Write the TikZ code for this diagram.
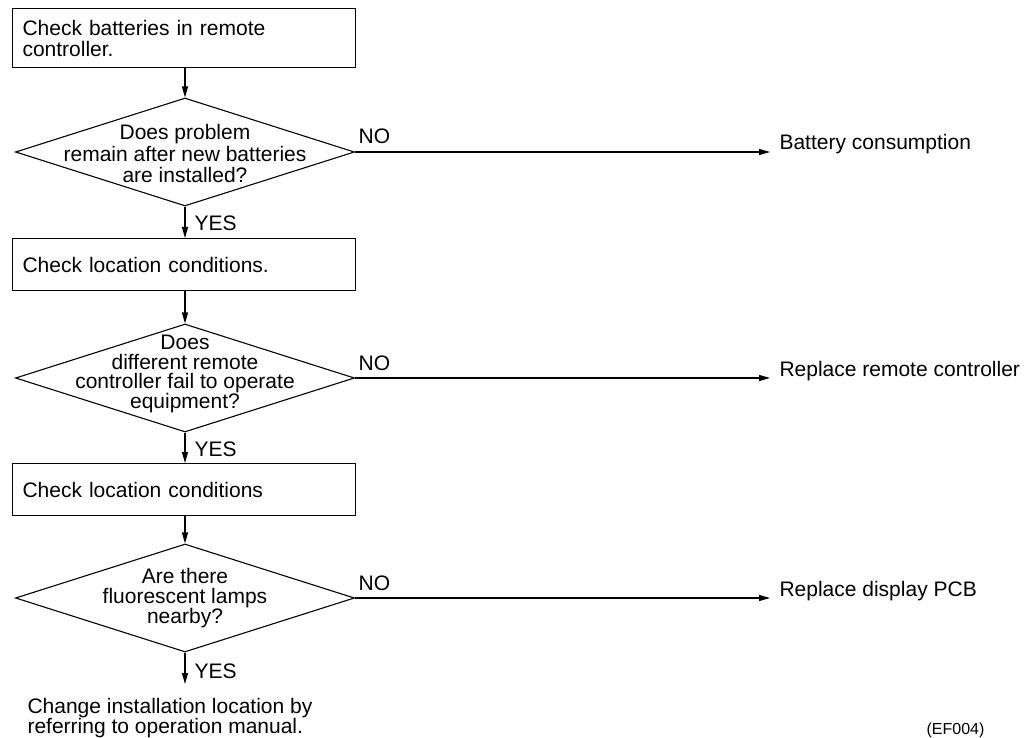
\documentclass[tikz,border=0pt]{standalone}
\usepackage{fontspec}
\setmainfont{Liberation Sans}
\usetikzlibrary{shapes.geometric,arrows.meta,calc}
\begin{document}
\begin{tikzpicture}[x=1pt,y=-1pt,
  every node/.style={font=\fontsize{21}{21}\selectfont},
  line width=1.1pt,
  boxstyle/.style={draw,rectangle,anchor=north west,minimum width=343pt,minimum height=#1,inner xsep=10pt,inner ysep=0pt,text width=323pt,align=left},
  dia/.style={draw,diamond,inner sep=0pt,minimum width=339pt,minimum height=108pt},
  dtext/.style={align=center,inner sep=0pt,anchor=north},
  arr/.style={-{Triangle[length=11pt,width=6pt]}},
  lbl/.style={inner sep=0pt},
]
\useasboundingbox (0,0) rectangle (1034,738);

\node[boxstyle=59pt] (b1) at (12,8) {Check batteries in remote\\controller.};
\node[dia] (d1) at (185,152) {};
\node[dtext,font=\fontsize{21}{21.5}\selectfont] (t1) at ($(d1.center)+(0,-28)$) {Does problem\\remain after new batteries\\are installed?};
\node[boxstyle=52pt] (b2) at (12,238) {Check location conditions.};
\node[dia] (d2) at (185,378) {};
\node[dtext,font=\fontsize{21}{19.2}\selectfont] (t2) at ($(d2.center)+(0,-43)$) {Does\\different remote\\controller fail to operate\\equipment?};
\node[boxstyle=52pt] (b3) at (12,463) {Check location conditions};
\node[dia] (d3) at (185,598) {};
\node[dtext,font=\fontsize{21}{20}\selectfont] (t3) at ($(d3.center)+(0,-30)$) {Are there\\fluorescent lamps\\nearby?};
\node[lbl,anchor=north west,align=left,font=\fontsize{21}{20}\selectfont] (fin) at (27,698) {Change installation location by\\referring to operation manual.};

\node[lbl,anchor=base west] (r1) at (779,150) {Battery consumption};
\node[lbl,anchor=base west] (r2) at (779,376) {Replace remote controller};
\node[lbl,anchor=base west] (r3) at (779,596) {Replace display PCB};

\node[lbl,anchor=base east,font=\fontsize{16}{16}\selectfont] (code) at (985,734) {(EF004)};

\draw[arr] (b1.south -| d1.north) -- (d1.north);
\draw[arr] (d1.south) -- node[lbl,anchor=west,xshift=9pt,yshift=-1pt]{YES} (b2.north -| d1.south);
\draw[arr] (b2.south -| d2.north) -- (d2.north);
\draw[arr] (d2.south) -- node[lbl,anchor=west,xshift=9pt,yshift=-1pt]{YES} (b3.north -| d2.south);
\draw[arr] (b3.south -| d3.north) -- (d3.north);
\draw[arr,shorten >=14pt] (d3.south) -- node[lbl,anchor=west,xshift=9pt,yshift=4pt]{YES} (d3.south |- fin.north);

\draw[arr,shorten >=9pt] (d1.east) -- node[lbl,pos=0,anchor=base west,xshift=3pt,yshift=8pt]{NO} (d1.east -| r1.west);
\draw[arr,shorten >=9pt] (d2.east) -- node[lbl,pos=0,anchor=base west,xshift=3pt,yshift=8pt]{NO} (d2.east -| r2.west);
\draw[arr,shorten >=9pt] (d3.east) -- node[lbl,pos=0,anchor=base west,xshift=3pt,yshift=8pt]{NO} (d3.east -| r3.west);
\end{tikzpicture}
\end{document}
